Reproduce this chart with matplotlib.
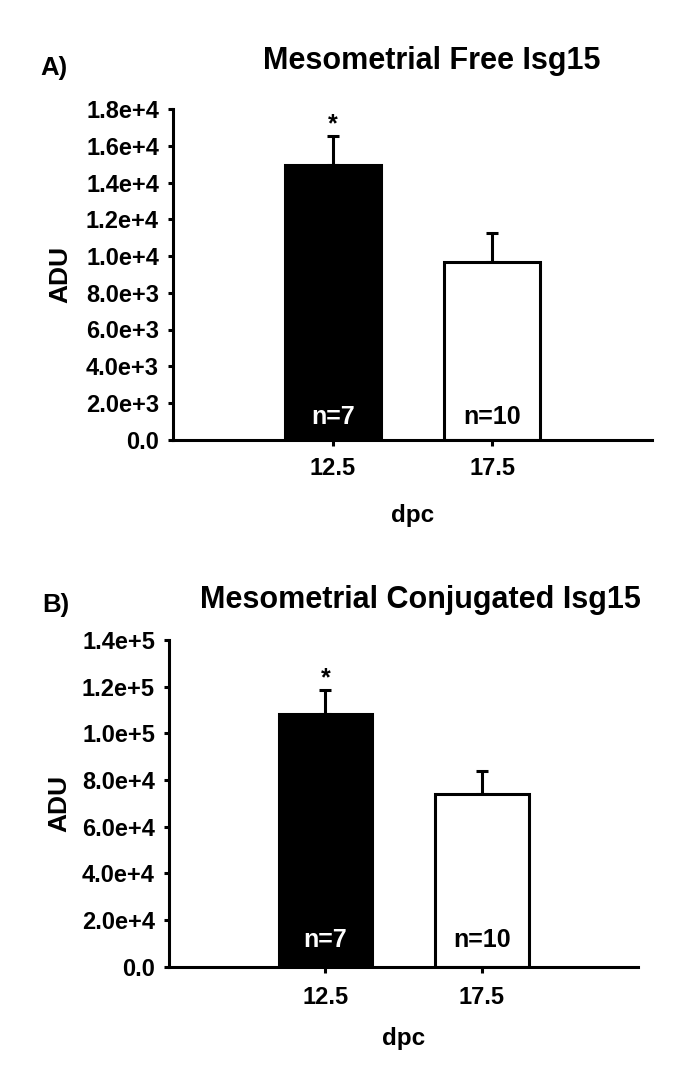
import matplotlib
matplotlib.use("Agg")
import matplotlib.pyplot as plt

plt.rcParams['font.family'] = ['Liberation Sans', 'DejaVu Sans']
plt.rcParams['font.weight'] = 'bold'

categories = ["12.5", "17.5"]
n_labels = ["n=7", "n=10"]

free_means = [14950, 9700]
free_errs = [1610, 1580]
free_ticks = [0, 2000, 4000, 6000, 8000, 10000, 12000, 14000, 16000, 18000]
free_ticklabels = ["0.0", "2.0e+3", "4.0e+3", "6.0e+3", "8.0e+3", "1.0e+4",
                   "1.2e+4", "1.4e+4", "1.6e+4", "1.8e+4"]

conj_means = [108500, 74000]
conj_errs = [10000, 9700]
conj_ticks = [0, 20000, 40000, 60000, 80000, 100000, 120000, 140000]
conj_ticklabels = ["0.0", "2.0e+4", "4.0e+4", "6.0e+4", "8.0e+4", "1.0e+5",
                   "1.2e+5", "1.4e+5"]

bar_colors = ["black", "white"]
n_colors = ["white", "black"]

W, H = 685, 1073
fig = plt.figure(figsize=(W / 100, H / 100), dpi=100)


def panel(px, means, errs, ticks, ticklabels, title, letter, title_xy, letter_xy,
          nfrac, starfrac, ylab_x, xlab_y, xpad):
    x0, x1, ytop, ybot = px
    ax = fig.add_axes([x0 / W, 1 - ybot / H, (x1 - x0) / W, (ybot - ytop) / H])
    x = [1, 2]
    ax.bar(x, means, width=0.6, color=bar_colors, edgecolor="black",
           linewidth=2.2, zorder=2)
    ax.errorbar(x, means, yerr=[[0, 0], errs], fmt="none", ecolor="black",
                elinewidth=2.2, capsize=4.3, capthick=2.2, zorder=1)
    ymax = ticks[-1]
    for xi, lab, c in zip(x, n_labels, n_colors):
        ax.text(xi, ymax * nfrac, lab, ha="center", va="baseline", color=c,
                fontsize=18, fontweight="bold", zorder=3)
    ax.text(x[0], means[0] + errs[0] + ymax * starfrac, "*", ha="center",
            va="baseline", fontsize=18, fontweight="bold")
    ax.set_xlim(0, 3)
    ax.set_ylim(0, ymax)
    ax.set_xticks(x)
    ax.set_xticklabels(categories, fontsize=17, fontweight="bold")
    ax.set_yticks(ticks)
    ax.set_yticklabels(ticklabels, fontsize=17, fontweight="bold")
    ax.spines["top"].set_visible(False)
    ax.spines["right"].set_visible(False)
    ax.spines["left"].set_linewidth(2.2)
    ax.spines["bottom"].set_linewidth(2.2)
    ax.tick_params(axis="y", direction="out", length=3.6, width=2.2, pad=6.5)
    ax.tick_params(axis="x", direction="out", length=4.3, width=2.2, pad=xpad)
    ax.set_ylabel("ADU", fontsize=19, fontweight="bold")
    ax.yaxis.set_label_coords(ylab_x, 0.5)
    ax.set_xlabel("dpc", fontsize=17.5, fontweight="bold", va="baseline")
    ax.xaxis.set_label_coords(0.5, xlab_y)
    fig.text(title_xy[0] / W, 1 - title_xy[1] / H, title, ha="left",
             va="baseline", fontsize=22, fontweight="bold")
    fig.text(letter_xy[0] / W, 1 - letter_xy[1] / H, letter, ha="left",
             va="baseline", fontsize=18.5, fontweight="bold")
    return ax


panel((173, 652, 109.3, 439.6), free_means, free_errs, free_ticks,
      free_ticklabels, "Mesometrial Free Isg15", "A)",
      (263, 69), (40, 75), 0.047, 0.013, -0.211, -0.2495, 8.5)
panel((169, 638.3, 640, 966.7), conj_means, conj_errs, conj_ticks,
      conj_ticklabels, "Mesometrial Conjugated Isg15", "B)",
      (200, 608), (42, 612), 0.06, 0.015, -0.209, -0.2397, 9.5)

fig.savefig("out.png", dpi=100)
